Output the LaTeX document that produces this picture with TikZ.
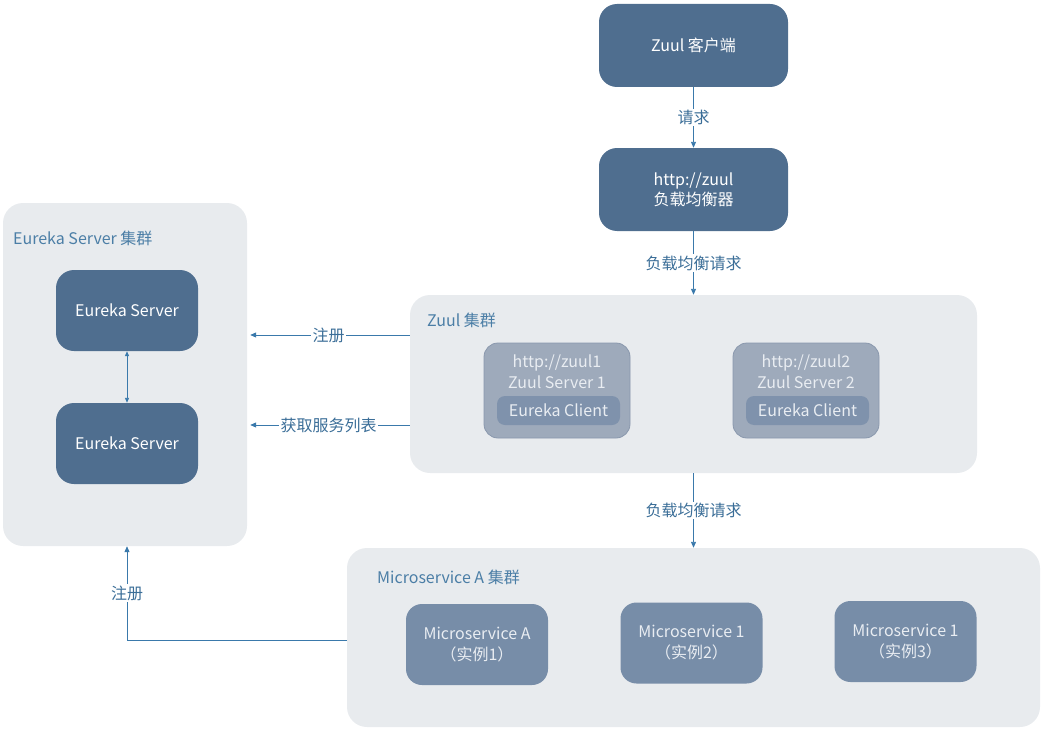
\documentclass[tikz,border=0pt]{standalone}
\usepackage{fontspec}
\setmainfont{Noto Sans CJK SC}
\usetikzlibrary{arrows.meta,positioning}

\definecolor{boxdark}{HTML}{4F6E8F}
\definecolor{clusterbg}{HTML}{E8EBEE}
\definecolor{zuulfill}{HTML}{9EAABB}
\definecolor{zuuldraw}{HTML}{8A98AD}
\definecolor{clientfill}{HTML}{7F92AC}
\definecolor{msfill}{HTML}{778DA8}
\definecolor{lighttext}{HTML}{E9EDF2}
\definecolor{flowblue}{HTML}{3A79AB}
\definecolor{tagblue}{HTML}{3B6E98}
\definecolor{titleblue}{HTML}{4B7EA6}

\tikzset{
  darkbox/.style={fill=boxdark, text=white, rounded corners=18pt, align=center,
    minimum width=189pt, minimum height=83pt, inner sep=0pt},
  cluster/.style={fill=clusterbg, rounded corners=20pt, inner sep=0pt},
  zuulbox/.style={fill=zuulfill, draw=zuuldraw, line width=0.8pt, rounded corners=14pt,
    minimum width=146pt, minimum height=95pt},
  clientbox/.style={fill=clientfill, text=lighttext, rounded corners=8pt,
    minimum width=123pt, minimum height=29pt, inner sep=0pt},
  msbox/.style={fill=msfill, text=lighttext, rounded corners=16pt, align=center,
    minimum width=142pt, minimum height=81pt, inner sep=0pt, font=\fontsize{16}{21}\selectfont},
  flow/.style={draw=flowblue, line width=0.9pt, -{Triangle[length=6pt,width=5pt]}},
  tag/.style={fill=white, text=tagblue, inner sep=1.5pt},
  title/.style={text=titleblue, anchor=west, inner sep=0pt}
}

\begin{document}
\begin{tikzpicture}[x=1pt, y=-1pt, every node/.append style={font=\fontsize{16}{20}\selectfont}]
  \useasboundingbox (0,0) rectangle (1046,733);

  % Client and load balancer
  \node[darkbox] (client) at (693.5,45.5) {Zuul 客户端};
  \node[darkbox] (lb) at (693.5,189.5) {http://zuul\\负载均衡器};

  % Clusters
  \node[cluster, minimum width=244pt, minimum height=343pt] (eurekacl) at (125,374.5) {};
  \node[cluster, minimum width=567pt, minimum height=178pt] (zuulcl) at (693.5,384) {};
  \node[cluster, minimum width=693pt, minimum height=179pt] (mscl) at (693.5,637.5) {};

  \node[title] (eurekatitle) at (13,238) {Eureka Server 集群};
  \node[title] (zuultitle) at (427,320) {Zuul 集群};
  \node[title] (mstitle) at (377,577) {Microservice A 集群};

  % Eureka servers
  \node[darkbox, minimum width=142pt, minimum height=81pt] (es1) at (127,310.5) {Eureka Server};
  \node[darkbox, minimum width=142pt, minimum height=81pt] (es2) at (127,443.5) {Eureka Server};
  \draw[flow, {Triangle[length=5pt,width=4pt]}-{Triangle[length=5pt,width=4pt]}] (es1) -- (es2);

  % Zuul servers
  \node[zuulbox] (zs1) at (557,390.5) {};
  \node[text=lighttext, align=center, font=\fontsize{16}{21}\selectfont] (zs1txt) at (557,371.5) {http://zuul1\\Zuul Server 1};
  \node[clientbox] (ec1) at (558.5,410.5) {Eureka Client};
  \node[zuulbox] (zs2) at (806,390.5) {};
  \node[text=lighttext, align=center, font=\fontsize{16}{21}\selectfont] (zs2txt) at (806,371.5) {http://zuul2\\Zuul Server 2};
  \node[clientbox] (ec2) at (807.5,410.5) {Eureka Client};

  % Microservice instances
  \node[msbox] (msa) at (477,644.5) {Microservice A\\（实例1）};
  \node[msbox] (ms2) at (691.5,643) {Microservice 1\\（实例2）};
  \node[msbox] (ms3) at (905.5,641.5) {Microservice 1\\（实例3）};

  % Requests
  \draw[flow] (client) -- (lb) node[tag, midway] {请求};
  \draw[flow] (lb) -- (zuulcl) node[tag, midway] {负载均衡请求};
  \draw[flow] (zuulcl) -- (mscl) node[tag, midway] {负载均衡请求};

  % Registration and service list
  \coordinate (zreg) at ([yshift=49pt]zuulcl.west);
  \coordinate (zlist) at ([yshift=-41pt]zuulcl.west);
  \coordinate (msreg) at ([yshift=-2.5pt]mscl.west);
  \draw[flow, shorten >=3pt] (zreg) -- (zreg -| eurekacl.east) node[tag, midway] {注册};
  \draw[flow, shorten >=3pt] (zlist) -- (zlist -| eurekacl.east) node[tag, midway] {获取服务列表};
  \draw[flow] (msreg) -| (es2 |- eurekacl.south) node[tag, pos=0.75] {注册};
\end{tikzpicture}
\end{document}
